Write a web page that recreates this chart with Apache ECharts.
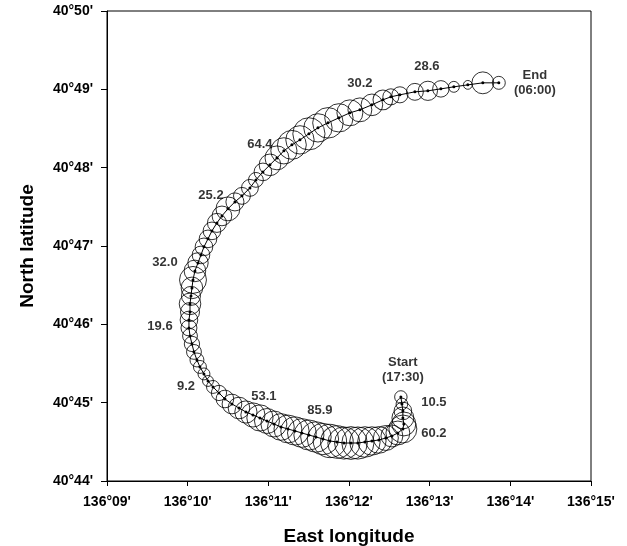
<!DOCTYPE html>
<html>
<head>
<meta charset="utf-8">
<script src="https://cdn.jsdelivr.net/npm/echarts@6/dist/echarts.min.js"></script>
<style>
html,body{margin:0;padding:0;background:#fff;}
#chart{width:627px;height:546px;}
</style>
</head>
<body>
<div id="chart"></div>
<script>
// Track positions: minutes past 136°E (lon) and 40°N (lat), with observed value per point
const lonMin = [12.643,12.656,12.668,12.668,12.680,12.668,12.606,12.532,12.457,12.370,12.284,12.197,12.110,12.024,11.937,11.850,11.763,11.677,11.590,11.503,11.416,11.330,11.243,11.156,11.069,10.983,10.896,10.809,10.722,10.636,10.549,10.462,10.388,10.314,10.252,10.202,10.152,10.115,10.078,10.053,10.029,10.016,10.016,10.029,10.029,10.041,10.053,10.066,10.090,10.128,10.165,10.202,10.252,10.301,10.363,10.425,10.499,10.586,10.673,10.772,10.846,10.933,11.020,11.107,11.193,11.292,11.392,11.503,11.615,11.739,11.875,12.011,12.135,12.284,12.420,12.519,12.631,12.817,12.978,13.139,13.300,13.473,13.659,13.857];
const latMin = [45.073,44.983,44.894,44.805,44.728,44.664,44.613,44.575,44.549,44.524,44.511,44.498,44.485,44.485,44.485,44.498,44.511,44.536,44.562,44.587,44.613,44.639,44.664,44.690,44.728,44.766,44.805,44.843,44.881,44.932,44.983,45.047,45.124,45.201,45.277,45.367,45.456,45.545,45.648,45.750,45.852,45.954,46.056,46.158,46.261,46.363,46.465,46.567,46.682,46.784,46.886,46.989,47.091,47.193,47.295,47.384,47.474,47.563,47.640,47.742,47.844,47.946,48.036,48.125,48.215,48.291,48.355,48.432,48.508,48.572,48.636,48.700,48.738,48.802,48.866,48.904,48.930,48.968,48.981,49.006,49.032,49.057,49.083,49.083];
const values = [12,10.5,24,37,44,60.2,44,37,48,55,62,72,80,83,80,82,85.9,76,72,70,64,62,60,55,52,48,53.1,45,38,36,30,24,18,13,9.2,11,13,15,17,18,17,19.6,24,28,36,28,36,56,36,32.0,24,24,24,24,28,30,44,25.2,22,22,17,24,36,44,53,64.4,62,80,62,72,62,52,44,36,30.2,20,20,22,28.6,21,9.2,6,37,13];

// Annotations: [lon minutes, lat minutes, text]
const notes = [
  [12.668,45.418,'Start\n(17:30)'],
  [13.052,45.009,'10.5'],
  [13.052,44.613,'60.2'],
  [11.639,44.907,'85.9'],
  [10.945,45.086,'53.1'],
  [9.979,45.213,'9.2'],
  [9.657,45.967,'19.6'],
  [9.719,46.784,'32.0'],
  [10.289,47.640,'25.2'],
  [10.896,48.291,'64.4'],
  [12.135,49.070,'30.2'],
  [12.965,49.287,'28.6'],
  [14.304,49.077,'End\n(06:00)']
];

const xTicks = [9,10,11,12,13,14,15];
const xTickLabels = ["136°09'","136°10'","136°11'","136°12'","136°13'","136°14'","136°15'"];
const yTicks = [44,45,46,47,48,49,50];
const yTickLabels = ["40°44'","40°45'","40°46'","40°47'","40°48'","40°49'","40°50'"];

const FONT = '"Liberation Sans", Arial, sans-serif';
const pts = lonMin.map((x,i)=>[x, latMin[i], values[i]]);

const chart = echarts.init(document.getElementById('chart'), null, {renderer:'canvas'});
chart.setOption({
  backgroundColor:'#fff',
  animation:false,
  grid:{left:107,right:36,top:11,bottom:65,containLabel:false,outerBoundsMode:'none',show:true,borderColor:'#000',borderWidth:1,backgroundColor:'transparent'},
  xAxis:{
    type:'value',min:9,max:15,interval:1,
    name:'East longitude',nameLocation:'middle',nameGap:46,
    nameTextStyle:{fontFamily:FONT,fontWeight:'bold',fontSize:19,color:'#000'},
    axisLine:{show:true,lineStyle:{color:'#000',width:1}},
    axisTick:{show:true,inside:false,length:5,lineStyle:{color:'#000'}},
    axisLabel:{margin:14,fontFamily:FONT,fontWeight:'bold',fontSize:14,color:'#000',
      formatter:v=>{const i=xTicks.indexOf(Math.round(v));return i>=0?xTickLabels[i]:'';}},
    splitLine:{show:false}
  },
  yAxis:{
    type:'value',min:44,max:50,interval:1,
    name:'North latitude',nameLocation:'middle',nameGap:70,nameRotate:90,
    nameTextStyle:{fontFamily:FONT,fontWeight:'bold',fontSize:19,color:'#000'},
    axisLine:{show:true,lineStyle:{color:'#000',width:1}},
    axisTick:{show:true,inside:false,length:6,lineStyle:{color:'#000'}},
    axisLabel:{margin:14,fontFamily:FONT,fontWeight:'bold',fontSize:14,color:'#000',
      formatter:v=>{const i=yTicks.indexOf(Math.round(v));return i>=0?yTickLabels[i]:'';}},
    splitLine:{show:false}
  },
  series:[
    {
      type:'scatter',
      data:pts,
      symbol:'circle',
      symbolSize:d=>3.6*Math.sqrt(d[2]),
      itemStyle:{color:'rgba(0,0,0,0)',borderColor:'#000',borderWidth:1},
      z:2,silent:true
    },
    {
      type:'line',
      data:pts.map(p=>[p[0],p[1]]),
      symbol:'circle',symbolSize:3,showSymbol:true,showAllSymbol:true,
      itemStyle:{color:'#000',borderWidth:0},
      lineStyle:{color:'#000',width:1},
      z:3,silent:true
    },
    {
      type:'scatter',
      data:notes.map(n=>[n[0],n[1],n[2]]),
      symbolSize:0,
      label:{show:true,position:'inside',formatter:p=>p.data[2],
        fontFamily:FONT,fontWeight:'bold',fontSize:13,color:'#000',lineHeight:15,align:'center',verticalAlign:'middle'},
      z:4,silent:true
    }
  ]
});
</script>
</body>
</html>
